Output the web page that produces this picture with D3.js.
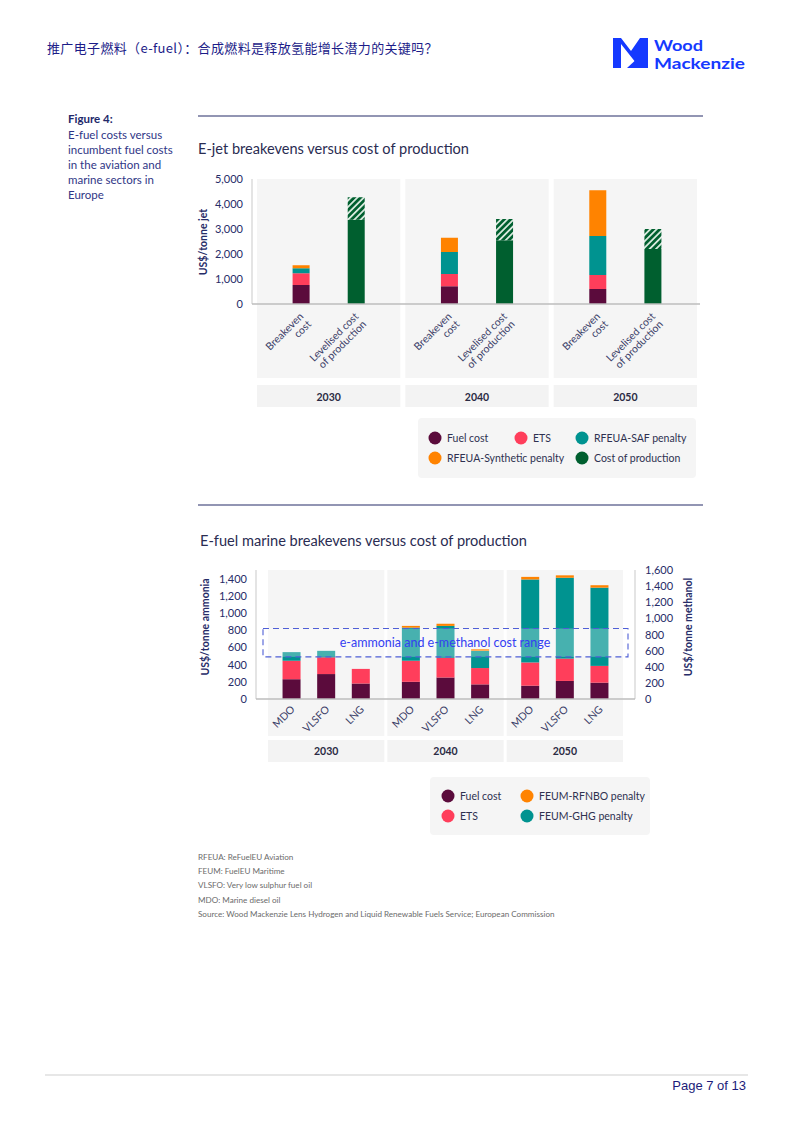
<!DOCTYPE html>
<html>
<head>
<meta charset="utf-8">
<script src="https://cdn.jsdelivr.net/npm/d3@7"></script>
<style>
  body { margin: 0; background: #fff; }
  svg text { font-family: Lato, "Noto Sans", sans-serif; }
</style>
</head>
<body>
<svg id="page"></svg>
<script>
/* DATA */
const jetYears = ["2030", "2040", "2050"];
const jetBars = ["Breakeven cost", "Levelised cost of production"];
const jetFuelCost = [760, 710, 600];
const jetEts = [470, 490, 560];
const jetSafPenalty = [200, 880, 1560];
const jetSynthPenalty = [120, 570, 1830];
const jetProduction = [3370, 2550, 2200];
const jetProductionRange = [900, 850, 800];
const jetTicks = [0, 1000, 2000, 3000, 4000, 5000];

const marineYears = ["2030", "2040", "2050"];
const marineFuels = ["MDO", "VLSFO", "LNG"];
// order: 2030 MDO, VLSFO, LNG, 2040 ..., 2050 ...
const marineFuelCost = [230, 290, 180, 200, 250, 170, 155, 210, 190];
const marineEts = [215, 195, 170, 245, 230, 190, 270, 260, 195];
const marineGhgPenalty = [100, 75, 0, 385, 370, 200, 965, 940, 910];
const marineRfnboPenalty = [0, 0, 0, 20, 25, 20, 30, 28, 28];
const marineCostRange = [490, 820];
const ammoniaTicks = [0, 200, 400, 600, 800, 1000, 1200, 1400];
const methanolTicks = [0, 200, 400, 600, 800, 1000, 1200, 1400, 1600];

const jetLegend = ["Fuel cost", "ETS", "RFEUA-SAF penalty", "RFEUA-Synthetic penalty", "Cost of production"];
const marineLegend = ["Fuel cost", "FEUM-RFNBO penalty", "ETS", "FEUM-GHG penalty"];

const figureLines = ["E-fuel costs versus", "incumbent fuel costs", "in the aviation and", "marine sectors in", "Europe"];
const footnotes = [
  "RFEUA: ReFuelEU Aviation",
  "FEUM: FuelEU Maritime",
  "VLSFO: Very low sulphur fuel oil",
  "MDO:  Marine diesel oil",
  "Source: Wood Mackenzie Lens Hydrogen and Liquid Renewable Fuels Service; European Commission"
];

/* STYLE */
const navy = "#272c68";
const col = {
  fuel: "#5b0b3c", ets: "#ff3e5b", saf: "#009390", synth: "#ff8300", prod: "#005f2f"
};
const panelFill = "#f5f5f5";

const svg = d3.select("#page").attr("width", 794).attr("height", 1123);

const defs = svg.append("defs");
const hatch = defs.append("pattern")
  .attr("id", "hatch")
  .attr("patternUnits", "userSpaceOnUse")
  .attr("width", 4.5).attr("height", 4.5)
  .attr("patternTransform", "rotate(45)");
hatch.append("rect").attr("width", 4.5).attr("height", 4.5).attr("fill", col.prod);
hatch.append("rect").attr("width", 1.8).attr("height", 4.5).attr("fill", "#d6e8dc");

/* HEADER */
svg.append("text")
  .attr("x", 47).attr("y", 53)
  .style("font-family", "'Noto Sans CJK SC'")
  .style("font-size", "13px")
  .style("letter-spacing", "0.35px")
  .attr("fill", "#1c1c88")
  .text("推广电子燃料（e-fuel）：合成燃料是释放氢能增长潜力的关键吗？");

const logoBlue = "#1539ff";
svg.append("path")
  .attr("d", "M613,38 L621,38 L631,51 L640,38 L648,38 L648,68 L640,68 L621,44 L621,68 L613,68 Z")
  .attr("fill", logoBlue);
svg.append("path")
  .attr("d", "M627,68 L640,68 L640,56 Z")
  .attr("fill", logoBlue);
svg.append("text").attr("x", 654).attr("y", 50.5)
  .style("font-size", "14.5px").style("font-weight", 700).attr("fill", logoBlue)
  .attr("textLength", 49).attr("lengthAdjust", "spacingAndGlyphs").text("Wood");
svg.append("text").attr("x", 654).attr("y", 68.5)
  .style("font-size", "14.5px").style("font-weight", 700).attr("fill", logoBlue)
  .attr("textLength", 91).attr("lengthAdjust", "spacingAndGlyphs").text("Mackenzie");

/* FIGURE CAPTION */
svg.append("text").attr("x", 68).attr("y", 123)
  .style("font-size", "11.5px").style("font-weight", 700).attr("fill", "#22286a").text("Figure 4:");
svg.selectAll(".figline").data(figureLines).enter().append("text")
  .attr("class", "figline")
  .attr("x", 68).attr("y", (d, i) => 139 + i * 15)
  .style("font-size", "11.5px").attr("fill", "#2f3686").text(d => d);

/* RULES */
svg.append("line").attr("x1", 198).attr("x2", 703).attr("y1", 116).attr("y2", 116)
  .attr("stroke", navy).attr("stroke-width", 1.2);
svg.append("line").attr("x1", 198).attr("x2", 703).attr("y1", 505).attr("y2", 505)
  .attr("stroke", navy).attr("stroke-width", 1.2);

/* ======== E-JET CHART ======== */
svg.append("text").attr("x", 198).attr("y", 154)
  .style("font-size", "14.5px").attr("fill", "#2a2c52")
  .attr("textLength", 271).attr("lengthAdjust", "spacingAndGlyphs")
  .text("E-jet breakevens versus cost of production");

const jetY = d3.scaleLinear().domain([0, 5000]).range([304, 179]);
const jetYearX = d3.scaleBand().domain(jetYears).range([257, 697]).paddingInner(0.034);
const jetBarX = d3.scalePoint().domain(jetBars).range([0, jetYearX.bandwidth()]).padding(0.8);
const jetBw = 17;

jetYears.forEach(y => {
  svg.append("rect").attr("x", jetYearX(y)).attr("y", 179)
    .attr("width", jetYearX.bandwidth()).attr("height", 378 - 179).attr("fill", panelFill);
  svg.append("rect").attr("x", jetYearX(y)).attr("y", 385)
    .attr("width", jetYearX.bandwidth()).attr("height", 22).attr("fill", "#f3f3f3");
  svg.append("text").attr("x", jetYearX(y) + jetYearX.bandwidth() / 2).attr("y", 401)
    .attr("text-anchor", "middle").style("font-size", "10.5px").style("font-weight", 700)
    .attr("fill", "#2b2b44").text(y);
});

svg.append("line").attr("x1", 252).attr("x2", 252).attr("y1", 179).attr("y2", 304)
  .attr("stroke", "#c9c9c9");
const jetAxis = svg.append("g").attr("transform", "translate(252,0)")
  .call(d3.axisLeft(jetY).tickValues(jetTicks).tickSize(0).tickPadding(9).tickFormat(d3.format(",")));
jetAxis.select(".domain").remove();
jetAxis.selectAll("text").style("font-size", "11px").attr("fill", navy).style("font-family", "Lato");

svg.append("text")
  .attr("transform", "translate(207,242) rotate(-90)")
  .attr("text-anchor", "middle").style("font-size", "10.5px").style("font-weight", 700)
  .attr("fill", navy).text("US$/tonne jet");

// breakeven stacks
const jetRows = jetYears.map((y, i) => ({
  year: y, fuel: jetFuelCost[i], ets: jetEts[i], saf: jetSafPenalty[i], synth: jetSynthPenalty[i]
}));
const jetStack = d3.stack().keys(["fuel", "ets", "saf", "synth"])(jetRows);
jetStack.forEach(layer => {
  svg.selectAll(".jb-" + layer.key).data(layer).enter().append("rect")
    .attr("x", d => jetYearX(d.data.year) + jetBarX(jetBars[0]) - jetBw / 2)
    .attr("y", d => jetY(d[1]))
    .attr("width", jetBw)
    .attr("height", d => jetY(d[0]) - jetY(d[1]))
    .attr("fill", col[layer.key]);
});

// levelised cost stacks
const prodRows = jetYears.map((y, i) => ({ year: y, prod: jetProduction[i], range: jetProductionRange[i] }));
const prodStack = d3.stack().keys(["prod", "range"])(prodRows);
prodStack.forEach(layer => {
  svg.selectAll(".jp-" + layer.key).data(layer).enter().append("rect")
    .attr("x", d => jetYearX(d.data.year) + jetBarX(jetBars[1]) - jetBw / 2)
    .attr("y", d => jetY(d[1]))
    .attr("width", jetBw)
    .attr("height", d => jetY(d[0]) - jetY(d[1]))
    .attr("fill", layer.key === "prod" ? col.prod : "url(#hatch)");
});

svg.append("line").attr("x1", 252).attr("x2", 700).attr("y1", 304).attr("y2", 304)
  .attr("stroke", "#bdbdbd").attr("stroke-width", 1.5);

// rotated category labels
const jetLabelLines = { "Breakeven cost": ["Breakeven", "cost"], "Levelised cost of production": ["Levelised cost", "of production"] };
jetYears.forEach(y => {
  jetBars.forEach(b => {
    const t = svg.append("text")
      .attr("transform", `translate(${jetYearX(y) + jetBarX(b) + 3},317) rotate(-45)`)
      .attr("text-anchor", "end").style("font-size", "10.5px").attr("fill", "#3b4068");
    jetLabelLines[b].forEach((line, i) => {
      t.append("tspan").attr("x", 0).attr("dy", i === 0 ? 0 : "1.05em").text(line);
    });
  });
});

// legend
svg.append("rect").attr("x", 418).attr("y", 418).attr("width", 278).attr("height", 60)
  .attr("rx", 4).attr("fill", panelFill);
const jetLegendPos = [[435, 438], [521, 438], [582, 438], [435, 458], [582, 458]];
const jetLegendCol = [col.fuel, col.ets, col.saf, col.synth, col.prod];
jetLegend.forEach((name, i) => {
  const [x, y] = jetLegendPos[i];
  svg.append("circle").attr("cx", x).attr("cy", y).attr("r", 6.5).attr("fill", jetLegendCol[i]);
  svg.append("text").attr("x", x + 12).attr("y", y + 3.8).style("font-size", "10.5px")
    .attr("fill", "#2e3150").text(name);
});

/* ======== MARINE CHART ======== */
svg.append("text").attr("x", 200).attr("y", 546)
  .style("font-size", "14.5px").attr("fill", "#2a2c52")
  .attr("textLength", 327).attr("lengthAdjust", "spacingAndGlyphs")
  .text("E-fuel marine breakevens versus cost of production");

const mY = d3.scaleLinear().domain([0, 1500]).range([699, 570]);
const mYR = d3.scaleLinear().domain([0, 1600]).range([699, 570]);
const mYearX = d3.scaleBand().domain(marineYears).range([268, 623]).paddingInner(0.025);
const mFuelX = d3.scalePoint().domain(marineFuels).range([0, mYearX.bandwidth()]).padding(0.68);
const mBw = 18;

marineYears.forEach(y => {
  svg.append("rect").attr("x", mYearX(y)).attr("y", 570)
    .attr("width", mYearX.bandwidth()).attr("height", 736 - 570).attr("fill", panelFill);
  svg.append("rect").attr("x", mYearX(y)).attr("y", 740)
    .attr("width", mYearX.bandwidth()).attr("height", 22).attr("fill", "#f3f3f3");
  svg.append("text").attr("x", mYearX(y) + mYearX.bandwidth() / 2).attr("y", 754.5)
    .attr("text-anchor", "middle").style("font-size", "10.5px").style("font-weight", 700)
    .attr("fill", "#2b2b44").text(y);
});

svg.append("line").attr("x1", 256).attr("x2", 256).attr("y1", 570).attr("y2", 699).attr("stroke", "#c9c9c9");
svg.append("line").attr("x1", 635).attr("x2", 635).attr("y1", 570).attr("y2", 699).attr("stroke", "#c9c9c9");

const mAxisL = svg.append("g").attr("transform", "translate(256,0)")
  .call(d3.axisLeft(mY).tickValues(ammoniaTicks).tickSize(0).tickPadding(9).tickFormat(d3.format(",")));
mAxisL.select(".domain").remove();
mAxisL.selectAll("text").style("font-size", "11px").attr("fill", navy).style("font-family", "Lato");

const mAxisR = svg.append("g").attr("transform", "translate(635,0)")
  .call(d3.axisRight(mYR).tickValues(methanolTicks).tickSize(0).tickPadding(10).tickFormat(d3.format(",")));
mAxisR.select(".domain").remove();
mAxisR.selectAll("text").style("font-size", "11px").attr("fill", navy).style("font-family", "Lato");

svg.append("text").attr("transform", "translate(209,627) rotate(-90)")
  .attr("text-anchor", "middle").style("font-size", "10.5px").style("font-weight", 700)
  .attr("fill", navy).text("US$/tonne ammonia");
svg.append("text").attr("transform", "translate(692,627) rotate(-90)")
  .attr("text-anchor", "middle").style("font-size", "10.5px").style("font-weight", 700)
  .attr("fill", navy).text("US$/tonne methanol");

const marineRows = [];
marineYears.forEach((y, yi) => {
  marineFuels.forEach((f, fi) => {
    const i = yi * marineFuels.length + fi;
    marineRows.push({
      year: y, fuelType: f,
      fuel: marineFuelCost[i], ets: marineEts[i], saf: marineGhgPenalty[i], synth: marineRfnboPenalty[i]
    });
  });
});
const marineStack = d3.stack().keys(["fuel", "ets", "saf", "synth"])(marineRows);
marineStack.forEach(layer => {
  svg.selectAll(".mb-" + layer.key).data(layer.filter(d => d[1] > d[0])).enter().append("rect")
    .attr("x", d => mYearX(d.data.year) + mFuelX(d.data.fuelType) - mBw / 2)
    .attr("y", d => mY(d[1]))
    .attr("width", mBw)
    .attr("height", d => mY(d[0]) - mY(d[1]))
    .attr("fill", col[layer.key]);
});

svg.append("line").attr("x1", 256).attr("x2", 635).attr("y1", 699).attr("y2", 699)
  .attr("stroke", "#bdbdbd").attr("stroke-width", 1.5);

// cost range box
svg.append("rect")
  .attr("x", 263).attr("y", mY(marineCostRange[1]))
  .attr("width", 628 - 263).attr("height", mY(marineCostRange[0]) - mY(marineCostRange[1]))
  .attr("fill", "#ffffff").attr("fill-opacity", 0.28)
  .attr("stroke", "#4f5fd6").attr("stroke-width", 1.1).attr("stroke-dasharray", "6,4");
svg.append("text").attr("x", 445).attr("y", mY(d3.mean(marineCostRange)) + 4.5)
  .attr("text-anchor", "middle").style("font-size", "12.5px").attr("fill", "#3440f2")
  .text("e-ammonia and e-methanol cost range");

marineRows.forEach(d => {
  svg.append("text")
    .attr("transform", `translate(${mYearX(d.year) + mFuelX(d.fuelType) + 4},710) rotate(-45)`)
    .attr("text-anchor", "end").style("font-size", "10.5px").attr("fill", "#3b4068")
    .text(d.fuelType);
});

// legend
svg.append("rect").attr("x", 430).attr("y", 777).attr("width", 220).attr("height", 58)
  .attr("rx", 4).attr("fill", panelFill);
const marineLegendPos = [[448, 796], [527, 796], [448, 816], [527, 816]];
const marineLegendCol = [col.fuel, col.synth, col.ets, col.saf];
marineLegend.forEach((name, i) => {
  const [x, y] = marineLegendPos[i];
  svg.append("circle").attr("cx", x).attr("cy", y).attr("r", 6.5).attr("fill", marineLegendCol[i]);
  svg.append("text").attr("x", x + 12).attr("y", y + 3.8).style("font-size", "10.5px")
    .attr("fill", "#2e3150").text(name);
});

/* FOOTNOTES */
svg.selectAll(".foot").data(footnotes).enter().append("text")
  .attr("class", "foot")
  .attr("x", 198).attr("y", (d, i) => 860 + i * 14.2)
  .style("font-size", "8.1px").attr("fill", "#6b6b6b").text(d => d);

/* PAGE FOOTER */
svg.append("line").attr("x1", 45).attr("x2", 748).attr("y1", 1075).attr("y2", 1075)
  .attr("stroke", "#cfcfcf");
svg.append("text").attr("x", 746).attr("y", 1090).attr("text-anchor", "end")
  .style("font-family", "'Liberation Sans', Arial, sans-serif").style("font-size", "13px")
  .attr("fill", "#1c1c7a").text("Page 7 of 13");
</script>
</body>
</html>
